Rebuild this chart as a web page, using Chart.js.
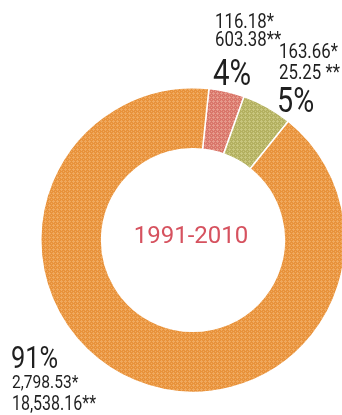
<!DOCTYPE html>
<html>
<head>
<meta charset="utf-8">
<script src="https://cdn.jsdelivr.net/npm/chart.js@4.4.1/dist/chart.umd.min.js"></script>
<style>
  html, body { margin: 0; padding: 0; background: #fff; overflow: hidden; }
  #wrap { position: relative; width: 346px; height: 415px; }
</style>
</head>
<body>
<div id="wrap"><canvas id="donut" width="346" height="415"></canvas></div>
<script>
// data
const period = "1991-2010";
const categories = ["Slice 1", "Slice 2", "Slice 3"];
const shares = [4, 5, 91];                          // percent labels
const valuesStar = [116.18, 163.66, 2798.53];       // "*" values, drive the slice sizes
const valuesDoubleStar = [603.38, 25.25, 18538.16]; // "**" values

const baseColors = ["#d9766a", "#b3b060", "#e8923b"];
const dotColors = ["#e69a8c", "#c8c67e", "#f0a95e"];

// small dotted texture like the printed original
function makePattern(base, dot) {
    const c = document.createElement("canvas");
    c.width = 4;
    c.height = 4;
    const g = c.getContext("2d");
    g.fillStyle = base;
    g.fillRect(0, 0, 4, 4);
    g.fillStyle = dot;
    g.fillRect(1, 0, 1, 1);
    g.fillRect(0, 1, 3, 1);
    g.fillRect(1, 2, 1, 1);
    g.fillRect(3, 3, 1, 1);
    return g.createPattern(c, "repeat");
}

const fmt = (v) => v.toLocaleString("en-US", { minimumFractionDigits: 2, maximumFractionDigits: 2 });

// condensed look: squeeze Roboto horizontally
function narrowText(ctx, text, x, y, size) {
    ctx.save();
    ctx.translate(x, y);
    ctx.scale(0.82, 1);
    ctx.font = size + "px Roboto, sans-serif";
    ctx.fillText(text, 0, 0);
    ctx.restore();
}

const labelPlugin = {
    id: "sliceLabels",
    afterDraw(chart) {
        const ctx = chart.ctx;
        ctx.save();
        ctx.fillStyle = "#1f1f1f";
        ctx.textBaseline = "alphabetic";
        ctx.textAlign = "left";

        // slice 1 (red)
        narrowText(ctx, fmt(valuesStar[0]) + "*", 215, 28, 20.5);
        narrowText(ctx, fmt(valuesDoubleStar[0]) + "**", 215, 46, 20.5);
        narrowText(ctx, shares[0] + "%", 213, 85, 36);

        // slice 2 (green)
        narrowText(ctx, fmt(valuesStar[1]) + "*", 279, 58, 20.5);
        narrowText(ctx, fmt(valuesDoubleStar[1]) + " **", 279, 79, 20.5);
        narrowText(ctx, shares[1] + "%", 277, 112, 35);

        // slice 3 (orange)
        narrowText(ctx, shares[2] + "%", 11, 368, 31);
        narrowText(ctx, fmt(valuesStar[2]) + "*", 12, 388, 19);
        narrowText(ctx, fmt(valuesDoubleStar[2]) + "**", 12, 410, 19.5);

        // centre title
        const arc = chart.getDatasetMeta(0).data[0];
        ctx.font = '24px Roboto, "Liberation Sans", sans-serif';
        ctx.fillStyle = "#d6525f";
        ctx.textAlign = "center";
        ctx.fillText(period, arc.x - 2, arc.y + 3);
        ctx.restore();
    }
};

new Chart(document.getElementById("donut"), {
    type: "doughnut",
    data: {
        labels: categories,
        datasets: [
            {
                data: valuesStar,
                backgroundColor: baseColors.map((b, i) => makePattern(b, dotColors[i])),
                borderColor: "#ffffff",
                borderWidth: 1.5,
            },
        ],
    },
    options: {
        responsive: false,
        animation: false,
        rotation: 6,
        cutout: "60%",
        layout: { padding: { left: 40, right: 0, top: 87, bottom: 22 } },
        plugins: {
            legend: { display: false },
            tooltip: { enabled: false },
        },
    },
    plugins: [labelPlugin],
});
</script>
</body>
</html>
